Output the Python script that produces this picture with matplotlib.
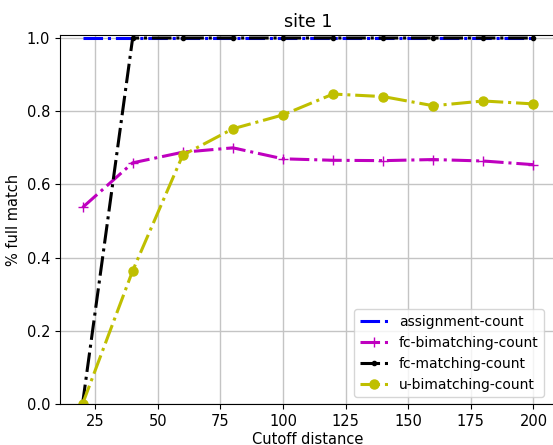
import numpy as np
import matplotlib.pyplot as plt

cutoff = [20, 40, 60, 80, 100, 120, 140, 160, 180, 200]
assignment = [1.0, 1.0, 1.0, 1.0, 1.0, 1.0, 1.0, 1.0, 1.0, 1.0]
fc_bimatching = [0.537, 0.659, 0.688, 0.700, 0.670, 0.666, 0.665, 0.668, 0.664, 0.654]
fc_matching = [0.0, 1.0, 1.0, 1.0, 1.0, 1.0, 1.0, 1.0, 1.0, 1.0]
u_bimatching = [0.0, 0.364, 0.680, 0.752, 0.790, 0.847, 0.840, 0.815, 0.828, 0.820]

plt.rcParams['font.size'] = 10.5

fig = plt.figure(figsize=(5.53, 4.45), dpi=100)
ax = fig.add_axes([0.1085, 0.0921, 0.897, 0.829])

ax.plot(cutoff, assignment, linestyle='-.', color='b', linewidth=2.2, label='assignment-count')
ax.plot(cutoff, fc_bimatching, linestyle='-.', marker='+', markersize=7, color='m', linewidth=2.2,
        label='fc-bimatching-count')
ax.plot(cutoff, fc_matching, linestyle='-.', marker='.', markersize=6, color='k', linewidth=2.2,
        label='fc-matching-count')
ax.plot(cutoff, u_bimatching, linestyle='-.', marker='o', markersize=6.5, color='y', linewidth=2.2,
        label='u-bimatching-count')

ax.set_xlim(11, 209)
ax.set_ylim(0.0, 1.008)
ax.set_xticks([25, 50, 75, 100, 125, 150, 175, 200])
ax.grid(True, color='#c4c4c4', linewidth=1.0)
ax.set_xlabel('Cutoff distance', labelpad=2)
ax.set_ylabel('% full match')
ax.set_title('site 1')
ax.legend(loc='lower right', bbox_to_anchor=(0.99, 0.0), fontsize=10)

fig.savefig('out.png', dpi=100)
